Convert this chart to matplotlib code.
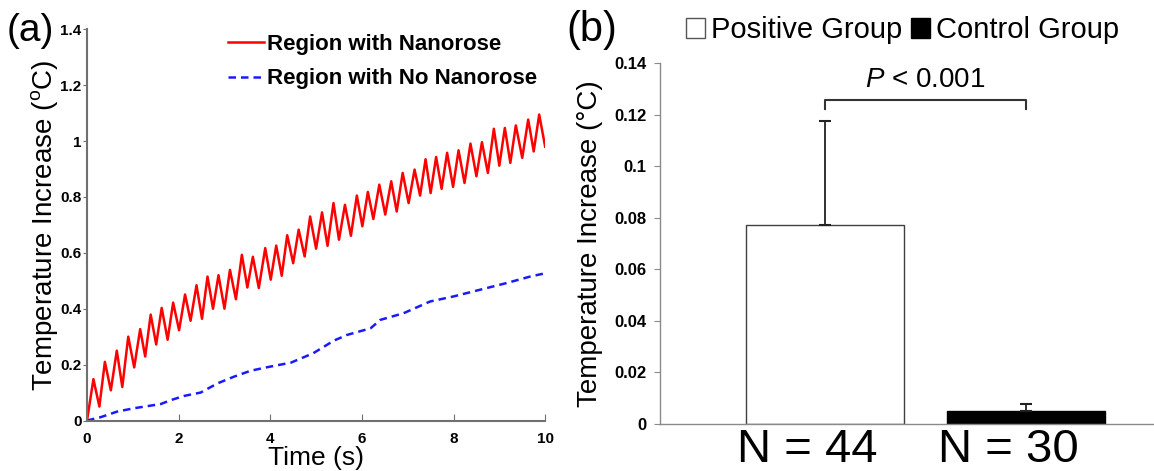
import matplotlib
matplotlib.use('Agg')
import matplotlib.pyplot as plt
from matplotlib.patches import Patch

plt.rcParams['font.family'] = ['Liberation Sans', 'DejaVu Sans']
plt.rcParams['mathtext.fontset'] = 'custom'
plt.rcParams['mathtext.rm'] = 'Liberation Sans'
plt.rcParams['mathtext.it'] = 'Liberation Sans:italic'

# (a) temperature trace, region with nanorose: peaks and troughs of the oscillation
peak_t = [0.14, 0.39, 0.65, 0.90, 1.16, 1.39, 1.63, 1.88, 2.14, 2.39,
          2.63, 2.87, 3.12, 3.38, 3.62, 3.89, 4.13, 4.37, 4.62, 4.87,
          5.13, 5.38, 5.63, 5.89, 6.13, 6.38, 6.64, 6.89, 7.15, 7.39,
          7.62, 7.86, 8.11, 8.37, 8.62, 8.88, 9.12, 9.36, 9.63, 9.87]
peak_v = [0.148, 0.21, 0.25, 0.30, 0.327, 0.379, 0.403, 0.422, 0.451, 0.484,
          0.515, 0.52, 0.539, 0.593, 0.586, 0.617, 0.626, 0.663, 0.683, 0.73,
          0.745, 0.778, 0.772, 0.805, 0.818, 0.844, 0.856, 0.886, 0.898, 0.935,
          0.943, 0.958, 0.967, 0.991, 0.996, 1.044, 1.047, 1.056, 1.077, 1.095]
trough_t = [0.27, 0.52, 0.77, 1.03, 1.27, 1.51, 1.76, 2.01, 2.26, 2.51,
            2.75, 3.00, 3.25, 3.50, 3.75, 4.01, 4.25, 4.50, 4.75, 5.00,
            5.25, 5.50, 5.76, 6.01, 6.25, 6.51, 6.76, 7.02, 7.27, 7.50,
            7.74, 7.99, 8.24, 8.50, 8.75, 9.00, 9.24, 9.50, 9.75]
trough_v = [0.05, 0.108, 0.12, 0.19, 0.229, 0.272, 0.289, 0.323, 0.357, 0.364,
            0.40, 0.40, 0.434, 0.476, 0.474, 0.504, 0.518, 0.563, 0.587, 0.615,
            0.625, 0.647, 0.661, 0.695, 0.721, 0.737, 0.748, 0.778, 0.805, 0.814,
            0.829, 0.836, 0.850, 0.874, 0.886, 0.912, 0.922, 0.940, 0.963]
start_pt = (0.0, 0.0)
end_pt = (10.0, 0.98)

# region with no nanorose
blue_t = [0, 0.3, 0.66, 1.03, 1.61, 1.83, 2.12, 2.48, 2.85, 3.21, 3.57, 3.94, 4.45,
          4.94, 5.39, 5.67, 6.19, 6.40, 6.91, 7.49, 8.0, 8.58, 9.16, 9.67, 10.0]
blue_v = [0, 0.012, 0.032, 0.044, 0.059, 0.073, 0.088, 0.10, 0.133, 0.157, 0.178, 0.191, 0.207,
          0.241, 0.286, 0.306, 0.330, 0.360, 0.384, 0.426, 0.444, 0.468, 0.492, 0.515, 0.527]

# (b) group means
groups = ['Positive Group', 'Control Group']
n_labels = ['N = 44', 'N = 30']
means = [0.077, 0.005]
errs = [0.0405, 0.0025]
p_text = '$P$ < 0.001'

# merge peaks and troughs into one trace
red_t = [start_pt[0]]
red_v = [start_pt[1]]
for i in range(len(peak_t)):
    red_t.append(peak_t[i])
    red_v.append(peak_v[i])
    if i < len(trough_t):
        red_t.append(trough_t[i])
        red_v.append(trough_v[i])
red_t.append(end_pt[0])
red_v.append(end_pt[1])

fig = plt.figure(figsize=(11.54, 4.71), dpi=100)

# ---- panel (a)
ax1 = fig.add_axes([0.0754, 0.1072, 0.397, 0.8306])
ax1.plot(red_t, red_v, color='#ff0000', lw=1.8, solid_joinstyle='round',
         label='Region with Nanorose')
ax1.plot(blue_t, blue_v, color='#1a1aff', lw=1.8, linestyle=(0, (3, 2)),
         label='Region with No Nanorose')
ax1.set_xlim(0, 10)
ax1.set_ylim(0, 1.4)
ax1.set_xticks([0, 2, 4, 6, 8, 10])
ax1.set_yticks([0, 0.2, 0.4, 0.6, 0.8, 1, 1.2, 1.4])
ax1.set_yticklabels(['0', '0.2', '0.4', '0.6', '0.8', '1', '1.2', '1.4'])
for s in ['top', 'right']:
    ax1.spines[s].set_visible(False)
for s in ['left', 'bottom']:
    ax1.spines[s].set_color('#707070')
    ax1.spines[s].set_linewidth(1.5)
ax1.tick_params(axis='x', direction='in', length=5, color='#707070', pad=8,
                labelsize=11)
ax1.tick_params(axis='y', direction='out', length=3, color='#707070', pad=1,
                labelsize=11)
for lab in ax1.get_xticklabels() + ax1.get_yticklabels():
    lab.set_fontweight('bold')
ax1.set_xlabel('Time (s)', fontsize=19, labelpad=0)
ax1.set_ylabel('Temperature Increase ($^{\\mathrm{o}}$C)', fontsize=20, labelpad=0)
leg = ax1.legend(loc='upper left', bbox_to_anchor=(0.265, 1.04), frameon=False,
                 handlelength=1.6, handletextpad=0.15, labelspacing=0.62,
                 prop={'weight': 'bold', 'size': 16})
fig.text(0.006, 0.935, '(a)', fontsize=28, ha='left', va='center')

# ---- panel (b)
ax2 = fig.add_axes([0.572, 0.1008, 0.428, 0.7654])
xpos = [0, 1]
ax2.bar(xpos[0], means[0], width=0.784, color='white', edgecolor='#404040', lw=1.0)
ax2.bar(xpos[1], means[1], width=0.784, color='black', edgecolor='black', lw=1.0)
for i in range(2):
    ax2.errorbar(xpos[i], means[i], yerr=[[0], [errs[i]]], fmt='none',
                 ecolor='#222222', elinewidth=1.3, capsize=4, capthick=1.5)
ax2.set_xlim(-0.819, 1.638)
ax2.set_ylim(0, 0.14)
ax2.set_yticks([0, 0.02, 0.04, 0.06, 0.08, 0.1, 0.12, 0.14])
ax2.set_yticklabels(['0', '0.02', '0.04', '0.06', '0.08', '0.1', '0.12', '0.14'])
ax2.set_xticks([])
# group counts under the bars, set a little left of the bar centres
for i in range(2):
    ax2.annotate(n_labels[i], xy=(xpos[i], 0), xycoords=('data', 'axes fraction'),
                 xytext=(-17, -4), textcoords='offset pixels',
                 ha='center', va='top', fontsize=34)
for s in ['top', 'right']:
    ax2.spines[s].set_visible(False)
for s in ['left', 'bottom']:
    ax2.spines[s].set_color('#8a8a8a')
    ax2.spines[s].set_linewidth(1.0)
ax2.tick_params(axis='y', direction='out', length=4, color='#8a8a8a', pad=6,
                labelsize=12)
for lab in ax2.get_yticklabels():
    lab.set_fontweight('bold')
ax2.set_ylabel('Temperature Increase (°C)', fontsize=20, labelpad=8)

# significance bracket
ax2.plot([xpos[0], xpos[0], xpos[1], xpos[1]], [0.1222, 0.1257, 0.1257, 0.1222],
         color='#333333', lw=1.5)
ax2.text(0.5, 0.1283, p_text, ha='center', va='bottom', fontsize=20)

handles = [Patch(facecolor='white', edgecolor='#555555', lw=1.0),
           Patch(facecolor='black', edgecolor='black')]
fig.legend(handles, groups, loc='center', bbox_to_anchor=(0.782, 0.936), ncol=2,
           frameon=False, fontsize=21, handlelength=0.65, handleheight=0.65,
           handletextpad=0.2, columnspacing=0.3)
fig.text(0.491, 0.936, '(b)', fontsize=30, ha='left', va='center')

fig.savefig('out.png', dpi=100)
